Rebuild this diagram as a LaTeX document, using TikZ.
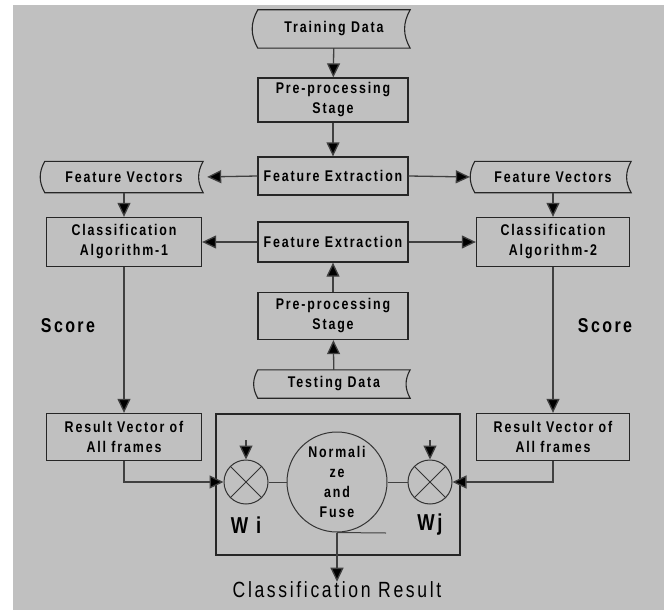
\documentclass[tikz,border=0pt]{standalone}
\usepackage{fontspec}
\newfontfamily\boxfont{Liberation Sans}[FakeStretch=0.8,LetterSpace=12,WordSpace=3]
\newfontfamily\labelfont{Liberation Sans}[FakeStretch=0.8,LetterSpace=12]
\usetikzlibrary{arrows.meta}
\definecolor{panel}{HTML}{C0C0C0}

\begin{document}
\begin{tikzpicture}[x=1pt,y=-1pt,
  every node/.style={font=\boxfont\bfseries\fontsize{15.5}{20}\selectfont, align=center, inner sep=0pt},
  procbox/.style={draw=black!85, line width=1.3pt, minimum width=150pt, minimum height=44pt},
  tapebox/.style={minimum width=152pt, minimum height=31pt},
  mult/.style={circle, draw=black!80, line width=1pt, minimum size=44pt},
  link/.style={draw=black!75, line width=1.3pt},
  arr/.style={link, -{Triangle[length=14pt,width=13pt,fill=black]}},
  bigtext/.style={font=\labelfont\bfseries\fontsize{20}{24}\selectfont}]
  \useasboundingbox (0,0) rectangle (664,610);
  \fill[panel] (13,5) rectangle (664,610);

  % Training branch
  \node[tapebox, minimum height=38pt] (train) at (334,29) {Training Data};
  \node[procbox] (pre1) at (333,100) {Pre-processing\\Stage};
  \node[procbox, minimum height=38pt] (fe1) at (333,176) {Feature Extraction};
  \node[tapebox, minimum width=158pt] (fvl) at (124,177) {Feature Vectors};
  \node[tapebox, minimum width=156pt] (fvr) at (553,177) {Feature Vectors};

  % Classifiers and testing branch
  \node[procbox, minimum width=155pt, minimum height=49pt] (cl1) at (124,242) {Classification\\Algorithm-1};
  \node[procbox, minimum height=40pt] (fe2) at (333,242) {Feature Extraction};
  \node[procbox, minimum width=153pt, minimum height=49pt] (cl2) at (553,242) {Classification\\Algorithm-2};
  \node[procbox, minimum height=47pt] (pre2) at (333,316) {Pre-processing\\Stage};
  \node[tapebox, minimum height=28pt] (test) at (334,384) {Testing Data};
  \node[bigtext] (scorel) at (68,326) {Score};
  \node[bigtext] (scorer) at (605,326) {Score};

  % Results and fusion
  \node[procbox, minimum width=155pt, minimum height=47pt] (res1) at (124,437) {Result Vector of\\All frames};
  \node[procbox, minimum width=153pt, minimum height=47pt] (res2) at (553,437) {Result Vector of\\All frames};
  \node[draw=black!85, line width=1.3pt, minimum width=244pt, minimum height=141pt] (fusebox) at (338,484.5) {};
  \node[mult] (wi) at (246,482) {};
  \node[mult] (wj) at (430,482) {};
  \node[circle, draw=black!80, line width=1pt, minimum size=100pt] (fuse) at (337,482) {Normali\\ze\\and\\Fuse};
  \node[font=\labelfont\bfseries\fontsize{23}{26}\selectfont] (wilab) at (246,525) {W i};
  \node[font=\labelfont\bfseries\fontsize{23}{26}\selectfont] (wjlab) at (430,525) {Wj};
  \node[font=\labelfont\fontsize{22}{26}\selectfont] (result) at (337,590) {Classification Result};
  \coordinate (wiin) at (246,440);
  \coordinate (wjin) at (430,440);
  \coordinate (fuseend) at (386,533);

  % Data tapes
  \foreach \n in {train,fvl,fvr,test}
    \draw[black!85, line width=1.1pt] (\n.north west) to[bend right=30] (\n.south west) -- (\n.south east)
      to[bend left=30] (\n.north east) -- cycle;

  % Crosses
  \foreach \n in {wi,wj}
    \draw[black!80, line width=0.8pt] (\n.north west) -- (\n.south east) (\n.north east) -- (\n.south west);

  % Connectors
  \draw[arr] (train) -- (pre1);
  \draw[arr] (pre1) -- (fe1);
  \draw[arr, shorten >=4pt] (fe1.west) -- (fvl.east);
  \draw[arr] (fe1.east) -- ([xshift=-5pt]fvr.west);
  \draw[arr] (fvl) -- (cl1);
  \draw[arr] (fvr) -- (cl2);
  \draw[arr] (fe2) -- (cl1);
  \draw[arr] (fe2) -- (cl2);
  \draw[arr] (pre2) -- (fe2);
  \draw[arr] (test) -- (pre2);
  \draw[arr] (cl1) -- (res1);
  \draw[arr] (cl2) -- (res2);
  \draw[arr] (res1.south) |- (wi.west);
  \draw[arr] (res2.south) |- (wj.east);
  \draw[link, line width=1pt] (wi) -- (fuse);
  \draw[link, line width=1pt] (fuse) -- (wj);
  \draw[arr] (wiin) -- (wi.north);
  \draw[arr] (wjin) -- (wj.north);
  \draw[link, line width=1pt] (fuse.south) -- (fuseend);
  \draw[arr] (fuse.south) -- (result.north);
\end{tikzpicture}
\end{document}
